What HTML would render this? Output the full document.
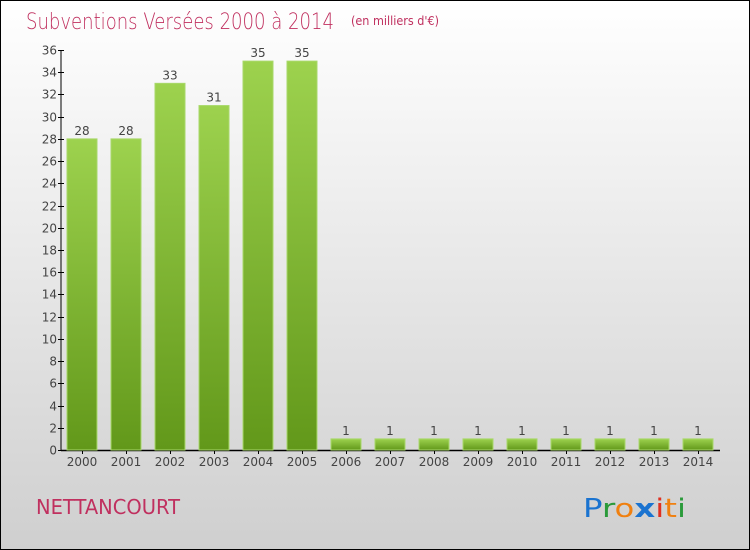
<!DOCTYPE html>
<html><head><meta charset="utf-8"><style>
html,body{margin:0;padding:0;}
body{width:750px;height:550px;overflow:hidden;font-family:"DejaVu Sans","Liberation Sans",sans-serif;}
#wrap{position:relative;width:748px;height:548px;border:1px solid #000;background:linear-gradient(#ffffff,#cfcfcf);}
</style></head><body>
<div id="wrap">
<svg id="chart" width="748" height="548" viewBox="1 1 748 548" style="position:absolute;left:0;top:0">
<defs><linearGradient id="g" x1="0" y1="0" x2="0" y2="1"><stop offset="0" stop-color="#9dd24e"/><stop offset="1" stop-color="#62981a"/></linearGradient></defs>
<text x="26" y="29" font-size="22" fill="#c0305f" font-family="'DejaVu Sans',sans-serif" font-weight="200" textLength="308" lengthAdjust="spacingAndGlyphs">Subventions Versées 2000 à 2014</text>
<text x="351" y="25" font-size="12" fill="#c0305f" textLength="88" lengthAdjust="spacingAndGlyphs">(en milliers d'€)</text>
<text x="36" y="514" font-size="20" fill="#c0305f" textLength="144" lengthAdjust="spacingAndGlyphs">NETTANCOURT</text>
<text x="583" y="517" font-size="26" font-family="'DejaVu Sans',sans-serif" textLength="103" lengthAdjust="spacingAndGlyphs"><tspan fill="#1a73d0">P</tspan><tspan fill="#2a9a3a">r</tspan><tspan fill="#f08010">o</tspan><tspan fill="#1a73d0" font-weight="bold">x</tspan><tspan fill="#e03020">i</tspan><tspan fill="#f08010">t</tspan><tspan fill="#2a9a3a">i</tspan></text>
<g id="axes"></g><g id="bars"></g>
</svg>
</div>
<script>
const categories=["2000","2001","2002","2003","2004","2005","2006","2007","2008","2009","2010","2011","2012","2013","2014"];
const values=[28,28,33,31,35,35,1,1,1,1,1,1,1,1,1];
const yTicks=[0,2,4,6,8,10,12,14,16,18,20,22,24,26,28,30,32,34,36];
const NS="http://www.w3.org/2000/svg";
const x0=61,x1=720,yTop=50,yBot=450,yMax=36,step=44,bw=30;
function y(v){return yBot-(v/yMax)*(yBot-yTop);}
function xc(i){return 82+i*step;}
function mk(t,a,p){const e=document.createElementNS(NS,t);for(const k in a)e.setAttribute(k,a[k]);p.appendChild(e);return e;}
const ax=document.getElementById('axes'),bg=document.getElementById('bars');
const yl=mk('line',{x1:x0,y1:yTop,x2:x0,y2:yBot,stroke:'#000','stroke-width':1},ax);


const xl=mk('line',{x1:x0,y1:yBot+0.5,x2:x1,y2:yBot+0.5,stroke:'#000','stroke-width':1.5},ax);


yTicks.forEach(v=>{
 const yy=Math.round(y(v))+0.5;
 mk('line',{x1:x0-3,y1:yy,x2:x0+3,y2:yy,stroke:'#000'},ax);
 const t=mk('text',{x:x0-4,y:yy+4,'font-size':12,fill:'#444','text-anchor':'end'},ax);
 t.textContent=v;
 
 
});
categories.forEach((c,i)=>{
 const cx=xc(i);
 mk('line',{x1:cx+0.5,y1:yBot,x2:cx+0.5,y2:yBot+4,stroke:'#000'},ax);
 const t=mk('text',{x:cx,y:yBot+16,'font-size':12,fill:'#444','text-anchor':'middle'},ax);
 t.textContent=c;
 
 
 const v=values[i];
 const r=mk('rect',{x:cx-bw/2,y:y(v),width:bw,height:yBot-y(v),fill:'url(#g)',stroke:'#a8d86a','stroke-width':1},bg);
 
 
 const l=mk('text',{x:cx,y:y(v)-4,'font-size':12,fill:'#444','text-anchor':'middle'},bg);
 l.textContent=v;
 
 
});
</script>
</body></html>
